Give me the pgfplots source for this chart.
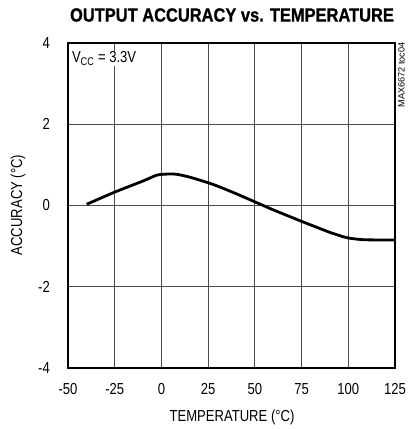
\documentclass[border=0pt]{standalone}
\usepackage{pgfplots}
\pgfplotsset{compat=1.18}
\usepackage{fontspec}
\setmainfont{Liberation Sans}[FakeStretch=0.82]
\newfontfamily\titlefont{Liberation Sans Bold}[FakeStretch=0.86,FakeBold=0.8]
\newfontfamily\plainfont{Liberation Sans}
\begin{document}
\begin{tikzpicture}[x=1bp,y=1bp]
\path[use as bounding box] (0,0) rectangle (408,429);
\begin{axis}[
  at={(68bp,61bp)}, anchor=south west,
  scale only axis, width=327bp, height=325bp,
  xmin=-50, xmax=125, ymin=-4, ymax=4,
  xtick={-50,-25,0,25,50,75,100,125},
  ytick={-4,-2,0,2,4},
  major tick length=0pt,
  grid=major,
  grid style={black!70, line width=0.8bp},
  axis line style={line width=2.6bp},
  /pgf/number format/assume math mode=true,
  tick label style={font=\fontsize{16}{18}\selectfont},
  xticklabel style={inner sep=0pt, anchor=north, yshift=-15bp},
  yticklabel style={inner sep=0pt, anchor=east, xshift=-18bp},
  clip=false,
]
\addplot[black, line width=2.8bp, smooth, tension=0.4] coordinates {
  (-40,0.03) (-25,0.33) (-10,0.60) (-3,0.74) (0,0.765) (4,0.775) (8,0.77)
  (15,0.70) (25,0.56) (31,0.46) (40,0.29) (50,0.09) (60,-0.11) (75,-0.39)
  (85,-0.57) (90,-0.66) (94,-0.72) (97,-0.765) (100,-0.80) (105,-0.83)
  (110,-0.845) (125,-0.85)
};
\node[anchor=north west, fill=white, inner sep=1bp, font=\fontsize{16}{18}\selectfont]
  at (axis cs:-48.5,3.82) {V\textsubscript{CC} = 3.3V};
\end{axis}
\node[font=\titlefont\fontsize{19.2}{22}\selectfont] at (232,414) {OUTPUT ACCURACY vs. TEMPERATURE};
\node[font=\fontsize{16}{18}\selectfont] at (232,12) {TEMPERATURE (°C)};
\node[font=\fontsize{16}{18}\selectfont, rotate=90] at (18,224) {ACCURACY (°C)};
\node[font=\plainfont\fontsize{9.2}{10}\selectfont, rotate=90, inner sep=0pt] at (401.5,354) {MAX6672 toc04};
\end{tikzpicture}
\end{document}
